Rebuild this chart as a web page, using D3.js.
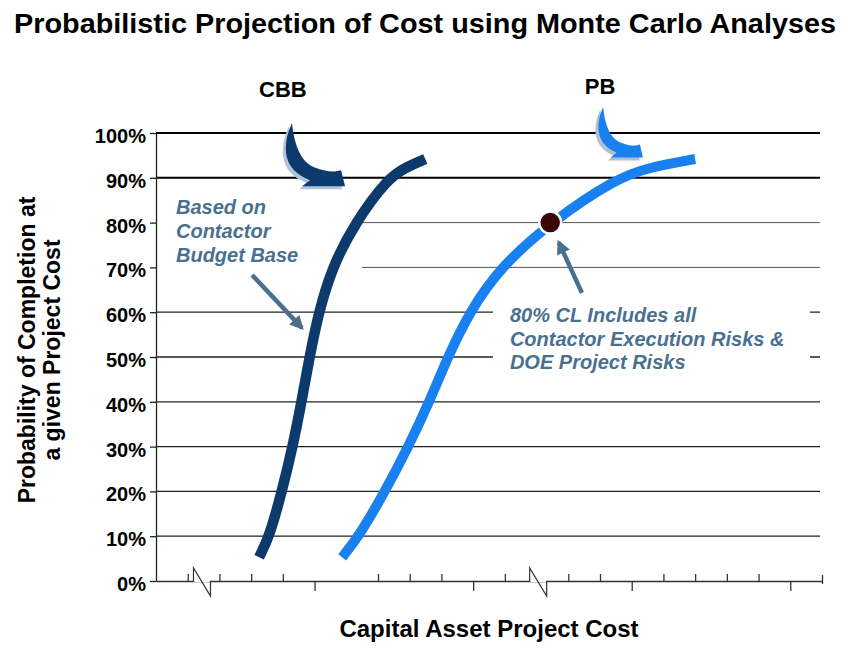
<!DOCTYPE html>
<html>
<head>
<meta charset="utf-8">
<script src="https://cdn.jsdelivr.net/npm/d3@7"></script>
<style>
  body { margin: 0; background: #fff; }
  svg { display: block; }
  text { font-family: Arial, "Liberation Sans", Helvetica, sans-serif; }
</style>
</head>
<body>
<svg id="chart" width="842" height="651"></svg>
<script>
// ---- data ----
var cbbCost = [3.25, 3.58, 3.97, 4.31, 4.59, 4.84, 5.13, 5.55, 6.28, 7.32, 7.90, 8.49];
var cbbProb = [5.3, 10, 20, 30, 40, 50, 60, 70, 80, 90, 92.4, 94.2];
var pbCost  = [5.87, 6.40, 7.22, 7.96, 8.62, 9.20, 9.88, 10.85, 12.43, 14.54, 15.6, 17.0];
var pbProb  = [5.3, 10, 20, 30, 40, 50, 60, 70, 80, 90, 92.4, 94.2];
var clPoint = [12.43, 80];          // 80% confidence level on PB

var yTicks = [0, 10, 20, 30, 40, 50, 60, 70, 80, 90, 100];
var xMinorTicks = [1, 2, 3, 4, 7, 8, 9, 11, 13, 14, 16, 17, 18, 19, 21];
var xMajorTicks = [5, 10, 15, 20];
var xBreaks = [1.45, 12.05];

var title = "Probabilistic Projection of Cost using Monte Carlo Analyses";
var yLabel = ["Probability of Completion at", "a given Project Cost"];
var xLabel = "Capital Asset Project Cost";
var cbbNote = ["Based on", "Contactor", "Budget Base"];
var pbNote = ["80% CL Includes all", "Contactor Execution Risks &", "DOE Project Risks"];

// ---- setup ----
var svg = d3.select("#chart");
var x = d3.scaleLinear().domain([0, 21]).range([156, 822]);
var y = d3.scaleLinear().domain([0, 100]).range([581, 133]);

var navy = "#0c3a6d", azure = "#1880ef", noteColor = "#4a7090";

// title
svg.append("text")
    .attr("x", 14).attr("y", 33)
    .attr("textLength", 822).attr("lengthAdjust", "spacingAndGlyphs")
    .style("font-size", "27px").style("font-weight", "bold")
    .text(title);

// gridlines
svg.append("g").selectAll("line")
    .data(yTicks.filter(function(d) { return d > 0; }))
  .enter().append("line")
    .attr("x1", x(0)).attr("x2", 820)
    .attr("y1", function(d) { return y(d); })
    .attr("y2", function(d) { return y(d); })
    .attr("stroke", function(d) { return d >= 90 ? "#000" : (d >= 70 ? "#555" : "#222"); })
    .attr("stroke-width", function(d) { return d >= 90 ? 2 : (d >= 70 ? 1 : 1.3); });

// white boxes behind the notes (they hide the gridlines)
svg.append("rect")
    .attr("x", x(0) + 1).attr("y", y(86)).attr("width", 362 - x(0) - 1).attr("height", y(68) - y(86))
    .attr("fill", "#fff");
svg.append("rect")
    .attr("x", 493).attr("y", y(63)).attr("width", 810 - 493).attr("height", y(45) - y(63))
    .attr("fill", "#fff");

// y axis
var yAxis = d3.axisLeft(y)
    .tickValues(yTicks)
    .tickSize(6).tickSizeOuter(0).tickPadding(4)
    .tickFormat(function(d) { return d + "%"; });
var gy = svg.append("g").attr("transform", "translate(" + x(0) + ",0)").call(yAxis);
gy.selectAll("path, line").attr("stroke", "#222").attr("stroke-width", 1.3);
gy.selectAll("text")
    .attr("dy", "0.47em")
    .style("font-size", "20px").style("font-weight", "bold").style("fill", "#000")
    .style("font-family", "Arial, 'Liberation Sans', sans-serif");

// x axis: minor ticks point up, major ticks point down
var xMinor = d3.axisBottom(x).tickValues(xMinorTicks).tickSizeInner(-7).tickSizeOuter(0).tickFormat("");
var xMajor = d3.axisBottom(x).tickValues(xMajorTicks).tickSizeInner(10).tickSizeOuter(0).tickFormat("");
var gx = svg.append("g").attr("transform", "translate(0," + y(0) + ")").call(xMinor);
var gx2 = svg.append("g").attr("transform", "translate(0," + y(0) + ")").call(xMajor);
gx2.select(".domain").remove();
svg.selectAll(".tick line, .domain").filter(function() { return !gy.node().contains(this); })
    .attr("stroke", "#333").attr("stroke-width", 1.3);
// end tick goes both ways
gx.selectAll(".tick").filter(function(d) { return d === 21; }).select("line").attr("y2", 3).attr("y1", -6);

// axis breaks: white gap, then the zigzag
svg.selectAll(".breakgap").data(xBreaks).enter().append("line")
    .attr("x1", function(d) { return x(d) - 7.8; }).attr("x2", function(d) { return x(d) + 7.8; })
    .attr("y1", y(0)).attr("y2", y(0))
    .attr("stroke", "#fff").attr("stroke-width", 2);
svg.append("g").selectAll("path")
    .data(xBreaks)
  .enter().append("path")
    .attr("d", function(d) {
      var cx = x(d), y0 = y(0);
      return "M" + (cx - 8.5) + "," + y0 + "V" + (y0 - 13) + "L" + (cx + 8.5) + "," + (y0 + 15) + "V" + y0;
    })
    .attr("fill", "none").attr("stroke", "#333").attr("stroke-width", 1.2);

// curves (smooth b-spline through the read points)
var line = d3.line()
    .x(function(d) { return x(d[0]); })
    .y(function(d) { return y(d[1]); })
    .curve(d3.curveBasis);

svg.append("path")
    .datum(d3.zip(cbbCost, cbbProb))
    .attr("d", line)
    .attr("fill", "none").attr("stroke", navy).attr("stroke-width", 10.5);

svg.append("path")
    .datum(d3.zip(pbCost, pbProb))
    .attr("d", line)
    .attr("fill", "none").attr("stroke", azure).attr("stroke-width", 10);

// 80% CL point
svg.append("circle")
    .attr("cx", x(clPoint[0])).attr("cy", y(clPoint[1]))
    .attr("r", 11)
    .attr("fill", "#3b0608").attr("stroke", "#fff").attr("stroke-width", 2.5);

// curved block arrows above the curves
function curvedArrow(cx, cy, sx, sy, fill, shadow) {
  var p = "M0,0 C2,20 8,38 22,44 C30,47 38,49 44,48 L49,47 L53,63 L10,63 L18,57 " +
          "C6,52 -4,45 -6,30 C-7,18 -4,8 0,0 Z";
  svg.append("path").attr("d", p)
      .attr("transform", "translate(" + (cx - 3) + "," + (cy + 3) + ") scale(" + sx + "," + sy + ")")
      .attr("fill", shadow);
  svg.append("path").attr("d", p)
      .attr("transform", "translate(" + cx + "," + cy + ") scale(" + sx + "," + sy + ")")
      .attr("fill", fill);
}
curvedArrow(x(4.29), y(102.2), 1, 1, navy, "#b4c4da");
curvedArrow(x(14.1), y(105.8), 0.75, 0.8, azure, "#b3bfd0");

// series labels
svg.append("text").attr("x", x(4.0)).attr("y", y(108)).attr("text-anchor", "middle")
    .style("font-size", "22px").style("font-weight", "bold").text("CBB");
svg.append("text").attr("x", x(14.0)).attr("y", y(108.7)).attr("text-anchor", "middle")
    .style("font-size", "22px").style("font-weight", "bold").text("PB");

// pointer arrows for the notes
svg.append("defs").append("marker")
    .attr("id", "head").attr("markerUnits", "userSpaceOnUse")
    .attr("viewBox", "0 0 10 10").attr("refX", 8).attr("refY", 5)
    .attr("markerWidth", 15).attr("markerHeight", 14).attr("orient", "auto")
  .append("path").attr("d", "M0,0 L10,5 L0,10 Z").attr("fill", noteColor);

svg.append("line")
    .attr("x1", x(3.03)).attr("y1", y(68.3)).attr("x2", x(4.6)).attr("y2", y(56.5))
    .attr("stroke", noteColor).attr("stroke-width", 4.5).attr("marker-end", "url(#head)");
svg.append("line")
    .attr("x1", x(13.43)).attr("y1", y(64.3)).attr("x2", x(12.7)).attr("y2", y(75.6))
    .attr("stroke", noteColor).attr("stroke-width", 4.5).attr("marker-end", "url(#head)");

// notes
function note(lines, x0, y0, lh) {
  var t = svg.append("text").attr("x", x0).attr("y", y0)
      .style("font-size", "20px").style("font-weight", "bold").style("font-style", "italic")
      .style("fill", noteColor);
  t.selectAll("tspan").data(lines).enter().append("tspan")
      .attr("x", x0).attr("dy", function(d, i) { return i ? lh : 0; })
      .text(function(d) { return d; });
}
note(cbbNote, x(0.63), y(81.9), 24);
note(pbNote, x(11.16), y(57.8), 23.5);

// axis titles
svg.append("text")
    .attr("x", 489).attr("y", 637).attr("text-anchor", "middle")
    .style("font-size", "24px").style("font-weight", "bold").text(xLabel);

var yl = svg.append("text")
    .attr("transform", "translate(35,350) rotate(-90)")
    .attr("text-anchor", "middle")
    .style("font-size", "23px").style("font-weight", "bold");
yl.selectAll("tspan").data(yLabel).enter().append("tspan")
    .attr("x", 0).attr("dy", function(d, i) { return i ? 25 : 0; })
    .text(function(d) { return d; });
</script>
</body>
</html>
